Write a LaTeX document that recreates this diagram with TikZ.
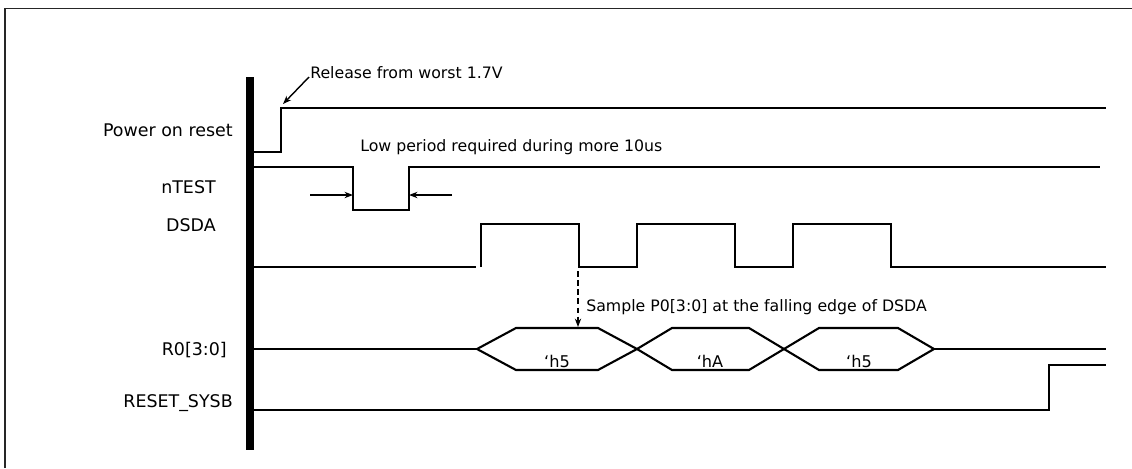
\documentclass[tikz,border=0pt]{standalone}
\usepackage{fontspec}
\setmainfont{DejaVu Sans}
\usetikzlibrary{arrows.meta}

\begin{document}
\begin{tikzpicture}[
        x=0.025cm, y=-0.025cm,
        >=Stealth,
        % Styles
        signame/.style={anchor=east, inner sep=0pt, font=\fontsize{12.4}{14}\selectfont},
        note/.style={anchor=west, inner sep=0pt, font=\fontsize{11.2}{13}\selectfont},
        buslabel/.style={inner sep=0pt, font=\fontsize{11.5}{13}\selectfont},
        wave/.style={line width=1.5pt},
        timebar/.style={line width=5pt},
        frame/.style={line width=1.3pt, draw=black!85},
        pointer/.style={line width=1pt, -{Stealth[length=6pt, width=4.5pt]}},
        sampler/.style={line width=0.9pt, dash pattern=on 4pt off 2.5pt, -{Stealth[length=6pt, width=4.5pt]}}
    ]
    \useasboundingbox (0,0) rectangle (1132,468);

    % ================= FRAME =================
    \draw[frame] (5,468) -- (5,8.5) -- (1132,8.5);

    % ================= SIGNAL NAMES =================
    \node[signame] (por) at (233,130) {Power on reset};
    \node[signame] (ntest) at (216,187) {nTEST};
    \node[signame] (dsda) at (216,225) {DSDA};
    \node[signame] (r0) at (227,350) {R0[3:0]};
    \node[signame] (rstsysb) at (233,403) {RESET\_SYSB};

    % ================= TIME ZERO BAR =================
    \draw[timebar] (250,77) -- (250,450);

    % ================= WAVEFORMS =================
    % power on reset rises once
    \draw[wave] (253,152) -- (281,152) -- (281,108) -- (1106,108);
    % nTEST low pulse
    \draw[wave] (253,167) -- (353,167) -- (353,210) -- (409,210) -- (409,167) -- (1100,167);
    % DSDA clocks three pulses
    \draw[wave] (253,267) -- (476,267);
    \draw[wave] (481,267) -- (481,224) -- (579,224) -- (579,267) -- (637,267) -- (637,224)
        -- (735,224) -- (735,267) -- (793,267) -- (793,224) -- (891,224) -- (891,267) -- (1106,267);
    % R0 bus values
    \draw[wave] (253,349) -- (477,349);
    \draw[wave] (477,349) -- (516,328) -- (598,328) -- (637,349) -- (598,370) -- (516,370) -- cycle;
    \draw[wave] (637,349) -- (672,328) -- (749,328) -- (784,349) -- (749,370) -- (672,370) -- cycle;
    \draw[wave] (784,349) -- (819,328) -- (898,328) -- (934,349) -- (898,370) -- (819,370) -- cycle;
    \draw[wave] (934,349) -- (1106,349);
    \node[buslabel] (val1) at (557,361) {‘h5};
    \node[buslabel] (val2) at (710,361) {‘hA};
    \node[buslabel] (val3) at (859,361) {‘h5};
    % RESET_SYSB released at the end
    \draw[wave] (253,410) -- (1049,410) -- (1049,365) -- (1106,365);

    % ================= ANNOTATIONS =================
    \node[note] (reltext) at (310,73) {Release from worst 1.7V};
    \coordinate (relfrom) at (309,77);
    \coordinate (reltip) at (283,104);
    \draw[pointer] (relfrom) -- (reltip);

    \node[note] (lowtext) at (360,147) {Low period required during more 10us};
    \coordinate (dimL) at (310,195);
    \coordinate (edgeL) at (353,195);
    \coordinate (dimR) at (452,195);
    \coordinate (edgeR) at (409,195);
    \draw[pointer] (dimL) -- (edgeL);
    \draw[pointer] (dimR) -- (edgeR);

    \coordinate (fall) at (578,271);
    \coordinate (bustop) at (578,327);
    \draw[sampler] (fall) -- (bustop);
    \node[note] (sampletext) at (586,307) {Sample P0[3:0] at the falling edge of DSDA};

\end{tikzpicture}
\end{document}
